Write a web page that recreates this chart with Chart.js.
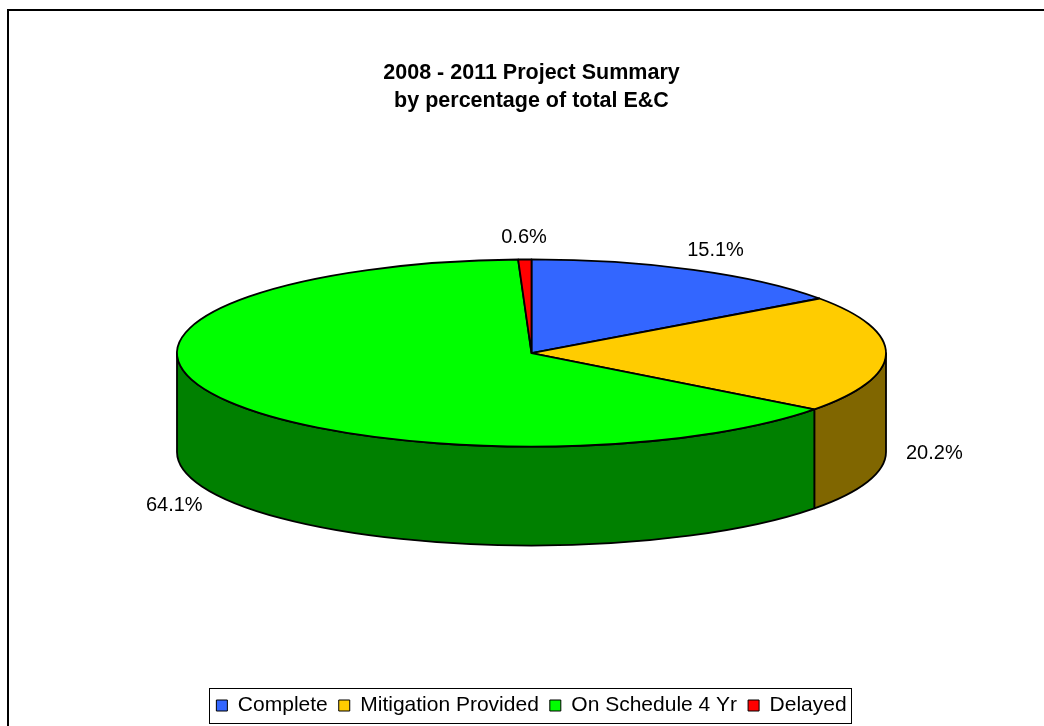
<!DOCTYPE html>
<html>
<head>
<meta charset="utf-8">
<script src="https://cdn.jsdelivr.net/npm/chart.js@4/dist/chart.umd.min.js"></script>
<style>
  html, body { margin: 0; padding: 0; background: #fff; }
  #c { display: block; }
</style>
</head>
<body>
<canvas id="c" width="1044" height="726"></canvas>
<script>
// ---- data ----
const categories = ['Complete', 'Mitigation Provided', 'On Schedule 4 Yr', 'Delayed'];
const shares = [15.1, 20.2, 64.1, 0.6];
const sliceColors = ['#3366FF', '#FFCC00', '#00FF00', '#FF0000'];
const titleLines = ['2008 - 2011 Project Summary', 'by percentage of total E&C'];

// ---- style ----
const TILT = 0.264;   // vertical squash of the pie top
const DEPTH = 0.279;  // wall height relative to horizontal radius
const FONT = "'Liberation Sans', Arial, sans-serif";

function shade(hex) {
  const n = parseInt(hex.slice(1), 16);
  const r = Math.round(((n >> 16) & 255) * 0.5);
  const g = Math.round(((n >> 8) & 255) * 0.5);
  const b = Math.round((n & 255) * 0.5);
  return `rgb(${r},${g},${b})`;
}

const pie3d = {
  id: 'pie3d',
  beforeDatasetsDraw(chart) {
    const ctx = chart.ctx;
    const meta = chart.getDatasetMeta(0);
    const ca = chart.chartArea;
    const rx = ca.width / 2;
    const ry = rx * TILT;
    const depth = rx * DEPTH;
    const total = 2 * ry + depth;
    const cx = meta.data[0].x;
    const cy = ca.top + (ca.height - total) / 2 + ry;
    chart.$pie = { cx, cy, rx, ry, depth };

    ctx.save();
    ctx.lineWidth = 1.8;
    ctx.strokeStyle = '#000';
    ctx.lineJoin = 'round';
    // side walls (front half only)
    meta.data.forEach((el, i) => {
      const a0 = Math.max(el.startAngle, 0);
      const a1 = Math.min(el.endAngle, Math.PI);
      if (a1 <= a0) return;
      ctx.beginPath();
      ctx.ellipse(cx, cy, rx, ry, 0, a0, a1, false);
      ctx.ellipse(cx, cy + depth, rx, ry, 0, a1, a0, true);
      ctx.closePath();
      ctx.fillStyle = shade(sliceColors[i]);
      ctx.fill();
      ctx.stroke();
    });
    // top faces
    meta.data.forEach((el, i) => {
      ctx.beginPath();
      ctx.moveTo(cx, cy);
      ctx.ellipse(cx, cy, rx, ry, 0, el.startAngle, el.endAngle, false);
      ctx.closePath();
      ctx.fillStyle = el.options.backgroundColor;
      ctx.fill();
      ctx.stroke();
    });
    ctx.restore();
    return false;
  },
  afterDraw(chart) {
    const ctx = chart.ctx;
    const meta = chart.getDatasetMeta(0);
    const g = chart.$pie;
    const values = chart.data.datasets[0].data;
    const sum = values.reduce((a, b) => a + b, 0);
    ctx.save();
    // percentage labels
    ctx.font = `20px ${FONT}`;
    ctx.fillStyle = '#000';
    ctx.textAlign = 'center';
    ctx.textBaseline = 'middle';
    meta.data.forEach((el, i) => {
      const m = (el.startAngle + el.endAngle) / 2;
      const ux = Math.cos(m), uy = Math.sin(m);
      const txt = (values[i] / sum * 100).toFixed(1) + '%';
      const w = ctx.measureText(txt).width;
      const ax = g.cx + (g.rx + 20) * ux;
      const ay = g.cy + (g.ry + 12) * uy + (uy > 0 ? g.depth : 0);
      ctx.fillText(txt, ax + ux * w / 2, ay + uy * 10);
    });
    // legend border
    const hb = chart.legend.legendHitBoxes;
    if (hb && hb.length) {
      let l = Infinity, r = -Infinity, t = Infinity, b = -Infinity;
      hb.forEach(h => {
        l = Math.min(l, h.left); r = Math.max(r, h.left + h.width);
        t = Math.min(t, h.top); b = Math.max(b, h.top + h.height);
      });
      const midY = (t + b) / 2;
      ctx.lineWidth = 1;
      ctx.strokeStyle = '#000';
      ctx.strokeRect(Math.round(l - 7) + 0.5, Math.round(midY - 17.5) + 0.5, Math.round(r - l + 12), 35);
    }
    // outer chart border
    ctx.lineWidth = 2;
    ctx.strokeStyle = '#000';
    ctx.strokeRect(8, 10, 1200, 900);
    ctx.restore();
  }
};

new Chart(document.getElementById('c'), {
  type: 'pie',
  data: {
    labels: categories,
    datasets: [{
      data: shares,
      backgroundColor: sliceColors,
      borderColor: '#000',
      borderWidth: 1
    }]
  },
  options: {
    responsive: false,
    animation: false,
    events: [],
    layout: { padding: { left: 177, right: 158, top: 0, bottom: 0 } },
    plugins: {
      title: {
        display: true,
        text: titleLines,
        color: '#000',
        font: { family: FONT, size: 21.5, weight: 'bold', lineHeight: 1.302 },
        padding: { top: 59, bottom: 6 }
      },
      legend: {
        position: 'bottom',
        labels: {
          color: '#000',
          font: { family: FONT, size: 21 },
          boxWidth: 11,
          boxHeight: 11,
          padding: 11
        }
      },
      tooltip: { enabled: false }
    }
  },
  plugins: [pie3d]
});
</script>
</body>
</html>
